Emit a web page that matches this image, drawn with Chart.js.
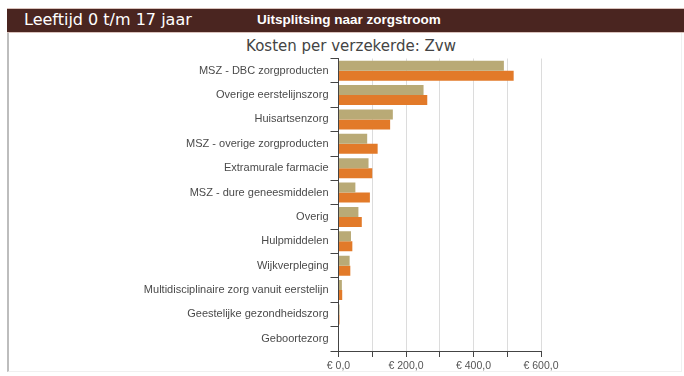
<!DOCTYPE html>
<html lang="nl">
<head>
<meta charset="utf-8">
<title>Kosten per verzekerde: Zvw</title>
<script src="https://cdn.jsdelivr.net/npm/chart.js@4/dist/chart.umd.min.js"></script>
<style>
  html, body { margin: 0; padding: 0; background: #fff; }
  body { width: 684px; height: 376px; position: relative; overflow: hidden; }
  #frame {
    position: absolute; left: 7px; top: 8px; width: 672px; height: 363px;
    border-left: 2px solid #bdbdbd; border-right: 1px solid #f0f0f0; border-bottom: 1px solid #f0f0f0;
  }
  #header {
    position: absolute; left: 7px; top: 8px; width: 677px; height: 23px;
    background: #4a2520; border-top: 1px solid #d9c2bc; border-bottom: 1px solid #d9c2bc;
  }
  #age {
    position: absolute; left: 24px; top: 10px; color: #fff;
    font: 16px "DejaVu Sans", sans-serif; white-space: nowrap;
  }
  #split {
    position: absolute; left: 257px; top: 12px; color: #fff;
    font: bold 13.5px "Liberation Sans", Arial, sans-serif; white-space: nowrap;
  }
  #title {
    position: absolute; left: 151px; width: 400px; top: 37px; text-align: center;
    color: #444; font: 15px "DejaVu Sans", sans-serif; white-space: nowrap;
  }
  #chart { position: absolute; left: 9px; top: 34px; }
</style>
</head>
<body>
<div id="frame"></div>
<div id="header"></div>
<div id="age">Leeftijd 0 t/m 17 jaar</div>
<div id="split">Uitsplitsing naar zorgstroom</div>
<div id="title">Kosten per verzekerde: Zvw</div>
<canvas id="chart" width="670" height="340"></canvas>
<script>
// Zorgstromen (categorieën), van hoog naar laag
const categories = [
  "MSZ - DBC zorgproducten",
  "Overige eerstelijnszorg",
  "Huisartsenzorg",
  "MSZ - overige zorgproducten",
  "Extramurale farmacie",
  "MSZ - dure geneesmiddelen",
  "Overig",
  "Hulpmiddelen",
  "Wijkverpleging",
  "Multidisciplinaire zorg vanuit eerstelijn",
  "Geestelijke gezondheidszorg",
  "Geboortezorg"
];

// Kosten per verzekerde in euro
const regioValues     = [490, 252, 161, 85, 89, 50, 59, 37, 33, 10, 3, 0];
const nederlandValues = [519, 263, 153, 116, 100, 93, 69, 41, 35, 11, 3, 0];

// As-instellingen
const axisMin = 0;
const axisMax = 600;
const axisStep = 100;
const labelledTicks = [0, 200, 400, 600];

const euro = v => "\u20AC " + v.toFixed(1).replace(".", ",");

new Chart(document.getElementById("chart"), {
  type: "bar",
  data: {
    labels: categories,
    datasets: [
      { label: "Regio", data: regioValues, backgroundColor: "#b9aa76" },
      { label: "Nederland", data: nederlandValues, backgroundColor: "#e27a29" }
    ]
  },
  options: {
    indexAxis: "y",
    responsive: false,
    animation: false,
    devicePixelRatio: 1,
    categoryPercentage: 0.82,
    barPercentage: 1.0,
    layout: { padding: { left: 0, right: 138, top: 24.5, bottom: 0 } },
    plugins: {
      legend: { display: false },
      title: { display: false },
      tooltip: { enabled: false }
    },
    scales: {
      x: {
        min: axisMin,
        max: axisMax,
        afterFit: s => { s.height = 23; },
        ticks: {
          stepSize: axisStep,
          autoSkip: false,
          maxRotation: 0,
          padding: 3,
          color: "#555",
          font: { family: "'Liberation Sans', Arial, sans-serif", size: 10.5 },
          callback: v => labelledTicks.includes(v) ? euro(v) : ""
        },
        grid: { color: "#dcdcdc", tickColor: "#444", tickLength: 6, lineWidth: 1 },
        border: { color: "#444", width: 1 }
      },
      y: {
        afterFit: s => { s.width = 329.5; },
        ticks: {
          autoSkip: false,
          padding: 2,
          color: "#4a4a4a",
          font: { family: "'Liberation Sans', Arial, sans-serif", size: 11 }
        },
        grid: { drawOnChartArea: false, tickColor: "#444", tickLength: 8 },
        border: { color: "#444", width: 1 }
      }
    }
  }
});
</script>
</body>
</html>
